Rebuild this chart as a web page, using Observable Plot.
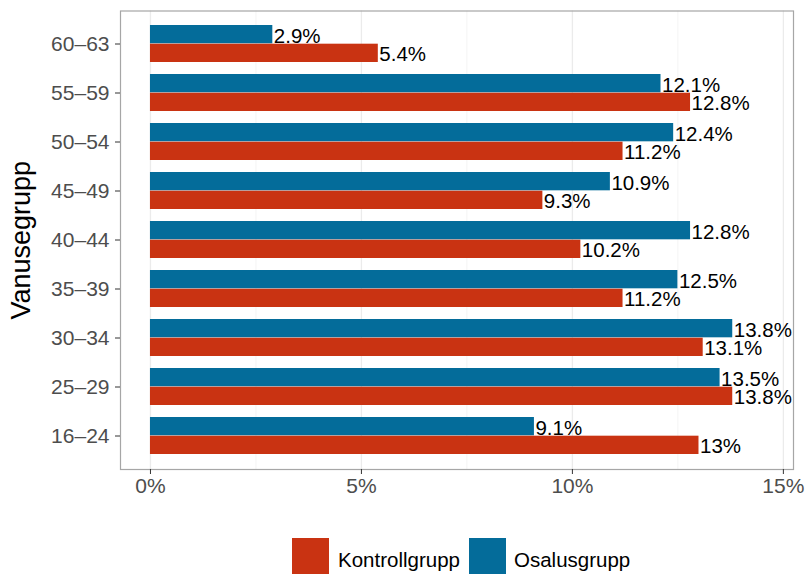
<!DOCTYPE html>
<html>
<head>
<meta charset="utf-8">
<script src="https://cdn.jsdelivr.net/npm/d3@7"></script>
<script src="https://cdn.jsdelivr.net/npm/@observablehq/plot@0.6"></script>
<style>
  body { margin: 0; background: #fff; font-family: "Liberation Sans", Arial, sans-serif; }
  #wrap { position: relative; width: 805px; height: 574px; overflow: hidden; }
  #legend { position: absolute; left: 0; top: 512px; width: 805px; height: 62px; }
  .sw { position: absolute; top: 26px; width: 37px; height: 37px; }
  .lt { position: absolute; top: 36px; font-size: 20.5px; line-height: 24px; color: #000; }
</style>
</head>
<body>
<div id="wrap">
  <div id="chart"></div>
  <div id="legend"></div>
</div>
<script>
const groups = ["16–24","25–29","30–34","35–39","40–44","45–49","50–54","55–59","60–63"];
const osalus = [9.1, 13.5, 13.8, 12.5, 12.8, 10.9, 12.4, 12.1, 2.9];
const kontroll = [13.0, 13.8, 13.1, 11.2, 10.2, 9.3, 11.2, 12.8, 5.4];
const seriesNames = ["Kontrollgrupp", "Osalusgrupp"];
const seriesColors = ["#C93312", "#046C9A"];
const xTicks = [0, 5, 10, 15];
const xMinor = [2.5, 7.5, 12.5];

const osalusData = groups.map((g, i) => ({group: g, value: osalus[i], series: "Osalusgrupp"}));
const kontrollData = groups.map((g, i) => ({group: g, value: kontroll[i], series: "Kontrollgrupp"}));

const H = 512, mt = 10.5, mb = 43;
const step = (H - mt - mb) / 9.2;
const half = step * 0.75 / 2;
const font = "Liberation Sans, Arial, sans-serif";

const chart = Plot.plot({
  width: 805,
  height: H,
  marginTop: mt,
  marginBottom: mb,
  marginLeft: 120,
  marginRight: 12,
  style: {fontFamily: font, background: "#fff"},
  x: {domain: [-0.71, 15.24]},
  y: {domain: groups.slice().reverse(), paddingInner: 0.25, paddingOuter: 0.225},
  color: {domain: seriesNames, range: seriesColors},
  marks: [
    Plot.ruleX(xMinor, {stroke: "#f4f4f4", strokeWidth: 1}),
    Plot.ruleX(xTicks, {stroke: "#ebebeb", strokeWidth: 1.3}),
    Plot.barX(osalusData, {x: "value", y: "group", fill: "series", insetBottom: half}),
    Plot.barX(kontrollData, {x: "value", y: "group", fill: "series", insetTop: half}),
    Plot.text(osalusData, {x: "value", y: "group", text: d => `${d.value}%`, textAnchor: "start", dx: 1, dy: -half / 2 + 1.5, fontSize: 20.5, fill: "#000"}),
    Plot.text(kontrollData, {x: "value", y: "group", text: d => `${d.value}%`, textAnchor: "start", dx: 1, dy: half / 2 + 1.5, fontSize: 20.5, fill: "#000"}),
    Plot.frame({stroke: "#a6a6a6", strokeWidth: 1.2}),
    Plot.axisX({ticks: xTicks, tickFormat: d => `${d}%`, tickSize: 5, tickPadding: 4, fontSize: 21, fill: "#4d4d4d", stroke: "#333", label: null}),
    Plot.axisY({tickSize: 5, tickPadding: 6, fontSize: 21, fill: "#4d4d4d", stroke: "#333", label: null}),
    Plot.text(["Vanusegrupp"], {frameAnchor: "left", textAnchor: "middle", text: d => d, rotate: -90, dx: -99, fontSize: 27, fill: "#000"})
  ]
});
document.getElementById("chart").appendChild(chart);

const legend = document.getElementById("legend");
const legendX = [[292, 338], [469, 514]];
seriesNames.forEach((name, i) => {
  const sw = document.createElement("div");
  sw.className = "sw";
  sw.style.left = legendX[i][0] + "px";
  sw.style.background = seriesColors[i];
  legend.appendChild(sw);
  const t = document.createElement("div");
  t.className = "lt";
  t.style.left = legendX[i][1] + "px";
  t.textContent = name;
  legend.appendChild(t);
});
</script>
</body>
</html>
